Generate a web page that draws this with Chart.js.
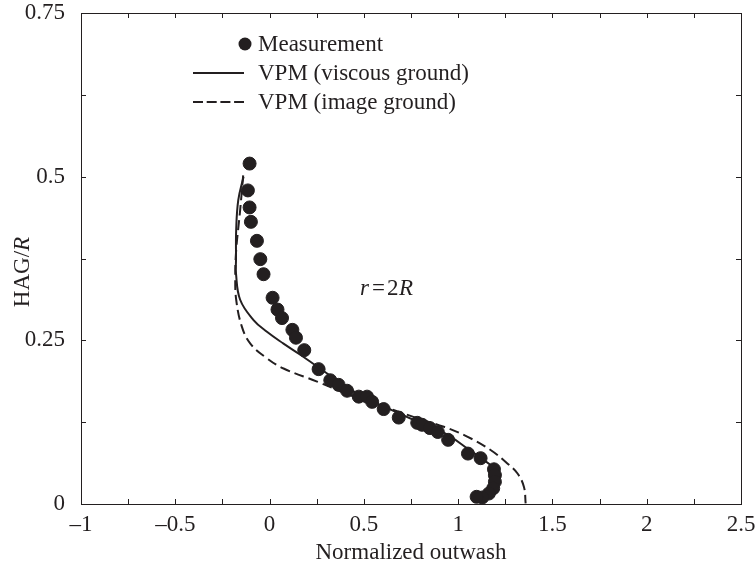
<!DOCTYPE html>
<html>
<head>
<meta charset="utf-8">
<script src="https://cdn.jsdelivr.net/npm/chart.js@4"></script>
<style>
  html, body { margin: 0; padding: 0; background: #fff; }
  #wrap { width: 755px; height: 572px; }
</style>
</head>
<body>
<div id="wrap"><canvas id="outwashChart" width="755" height="572"></canvas></div>
<script>
const measX = [-0.106, -0.115, -0.106, -0.099, -0.067, -0.049, -0.032, 0.016, 0.042, 0.066, 0.121, 0.140,
    0.184, 0.260, 0.322, 0.366, 0.411, 0.473, 0.517, 0.544, 0.605, 0.685, 0.783, 0.809, 0.850, 0.892,
    0.947, 1.052, 1.119, 1.190, 1.195, 1.195, 1.186, 1.163, 1.128, 1.098];
const measY = [0.520, 0.479, 0.453, 0.431, 0.402, 0.374, 0.351, 0.315, 0.297, 0.284, 0.266, 0.254,
    0.235, 0.206, 0.189, 0.182, 0.173, 0.164, 0.164, 0.156, 0.145, 0.132, 0.124, 0.121, 0.116, 0.110,
    0.098, 0.077, 0.070, 0.053, 0.044, 0.034, 0.024, 0.016, 0.010, 0.011];

// VPM (viscous ground) - solid
const viscX = [-0.138, -0.166, -0.177, -0.178, -0.178, -0.156, -0.085, -0.014, 0.074, 0.163, 0.252, 0.358,
    0.464, 0.605, 0.783, 0.889, 0.960, 1.048, 1.136, 1.185, 1.196, 1.188, 1.170];
const viscY = [0.500, 0.464, 0.419, 0.373, 0.352, 0.312, 0.281, 0.263, 0.245, 0.228, 0.210, 0.189,
    0.169, 0.149, 0.126, 0.114, 0.103, 0.085, 0.067, 0.055, 0.035, 0.018, 0.008];

// VPM (image ground) - dashed
const imageX = [-0.140, -0.156, -0.177, -0.182, -0.177, -0.147, -0.102, -0.014, 0.074, 0.252, 0.429, 0.605,
    0.783, 0.924, 1.048, 1.172, 1.261, 1.314, 1.349, 1.358];
const imageY = [0.502, 0.449, 0.388, 0.347, 0.312, 0.271, 0.245, 0.2225, 0.207, 0.187, 0.166, 0.149,
    0.131, 0.118, 0.103, 0.0825, 0.062, 0.047, 0.026, 0.001];

const xTickLabels = [-1, -0.5, 0, 0.5, 1, 1.5, 2, 2.5];
const yTickLabels = [0, 0.25, 0.5, 0.75];

const FONT = '"Liberation Serif", "DejaVu Serif", serif';
const FS = 23;
const INK = '#231f20';
const DASH = [10, 5];

const toPoints = (xs, ys) => xs.map((x, i) => ({ x: x, y: ys[i] }));

// frame, inward ticks, legend, annotation and axis titles
const decorPlugin = {
    id: 'decor',
    afterDraw(chart) {
        const ctx = chart.ctx;
        const a = chart.chartArea;
        const xs = chart.scales.x, ys = chart.scales.y;
        const tl = 5;
        ctx.save();
        ctx.strokeStyle = INK;
        ctx.lineWidth = 1;
        ctx.strokeRect(a.left + 0.5, a.top + 0.5, a.right - a.left, a.bottom - a.top);

        ctx.beginPath();
        for (let v = -1; v <= 2.5001; v += 0.25) {
            const px = Math.round(xs.getPixelForValue(v)) + 0.5;
            ctx.moveTo(px, a.bottom); ctx.lineTo(px, a.bottom - tl);
            ctx.moveTo(px, a.top); ctx.lineTo(px, a.top + tl);
        }
        for (let v = 0; v <= 0.7501; v += 0.125) {
            const py = Math.round(ys.getPixelForValue(v)) + 0.5;
            ctx.moveTo(a.left, py); ctx.lineTo(a.left + tl, py);
            ctx.moveTo(a.right, py); ctx.lineTo(a.right - tl, py);
        }
        ctx.stroke();

        // legend
        ctx.fillStyle = INK;
        ctx.font = FS + 'px ' + FONT;
        ctx.textBaseline = 'middle';
        ctx.textAlign = 'left';
        ctx.beginPath();
        ctx.arc(245, 44, 6.5, 0, Math.PI * 2);
        ctx.fill();
        ctx.fillText('Measurement', 258, 45);

        ctx.lineWidth = 2;
        ctx.beginPath();
        ctx.moveTo(193, 73); ctx.lineTo(244, 73);
        ctx.stroke();
        ctx.fillText('VPM (viscous ground)', 258, 74);

        ctx.setLineDash([10, 3.7]);
        ctx.beginPath();
        ctx.moveTo(193, 102); ctx.lineTo(244, 102);
        ctx.stroke();
        ctx.setLineDash([]);
        ctx.fillText('VPM (image ground)', 258, 103);

        // r = 2R annotation
        ctx.font = 'italic ' + FS + 'px ' + FONT;
        ctx.fillText('r', 360, 289);
        ctx.font = FS + 'px ' + FONT;
        ctx.fillText('=', 372, 289);
        ctx.fillText('2', 387, 289);
        ctx.font = 'italic ' + FS + 'px ' + FONT;
        ctx.fillText('R', 399, 289);

        // axis titles
        ctx.font = FS + 'px ' + FONT;
        ctx.textAlign = 'center';
        ctx.fillText('Normalized outwash', 411, 553);

        ctx.translate(23, 272);
        ctx.rotate(-Math.PI / 2);
        ctx.textAlign = 'left';
        const t1 = 'HAG/';
        const w1 = ctx.measureText(t1).width;
        ctx.font = 'italic ' + FS + 'px ' + FONT;
        const w2 = ctx.measureText('R').width;
        const start = -(w1 + w2) / 2;
        ctx.font = FS + 'px ' + FONT;
        ctx.fillText(t1, start, 0);
        ctx.font = 'italic ' + FS + 'px ' + FONT;
        ctx.fillText('R', start + w1, 0);
        ctx.restore();
    }
};

const fmt = v => String(v).replace('-', '\u2013');

new Chart(document.getElementById('outwashChart').getContext('2d'), {
    type: 'scatter',
    data: {
        datasets: [
            {
                label: 'VPM (viscous ground)',
                data: toPoints(viscX, viscY),
                borderColor: INK,
                borderWidth: 2,
                pointRadius: 0,
                showLine: true,
                tension: 0.4
            },
            {
                label: 'VPM (image ground)',
                data: toPoints(imageX, imageY),
                borderColor: INK,
                borderWidth: 2,
                borderDash: DASH,
                pointRadius: 0,
                showLine: true,
                tension: 0.4
            },
            {
                label: 'Measurement',
                data: toPoints(measX, measY),
                backgroundColor: INK,
                borderColor: INK,
                pointRadius: 6.5,
                showLine: false,
                order: -1
            }
        ]
    },
    options: {
        responsive: false,
        animation: false,
        layout: { padding: { top: 13, right: 14, left: 0, bottom: 0 } },
        plugins: {
            legend: { display: false },
            tooltip: { enabled: false }
        },
        scales: {
            x: {
                type: 'linear',
                min: -1,
                max: 2.5,
                afterBuildTicks: s => { s.ticks = xTickLabels.map(v => ({ value: v })); },
                afterFit: s => { s.height = 68; s.paddingLeft = 0; s.paddingRight = 0; },
                grid: { display: false, drawTicks: false },
                border: { display: false },
                ticks: {
                    color: INK,
                    padding: 7,
                    maxRotation: 0,
                    font: { family: FONT, size: FS },
                    callback: v => fmt(v)
                }
            },
            y: {
                type: 'linear',
                min: 0,
                max: 0.75,
                afterBuildTicks: s => { s.ticks = yTickLabels.map(v => ({ value: v })); },
                afterFit: s => { s.width = 81; s.paddingTop = 0; s.paddingBottom = 0; },
                grid: { display: false, drawTicks: false },
                border: { display: false },
                ticks: {
                    color: INK,
                    padding: 16,
                    font: { family: FONT, size: FS },
                    callback: v => fmt(v)
                }
            }
        }
    },
    plugins: [decorPlugin]
});
</script>
</body>
</html>
